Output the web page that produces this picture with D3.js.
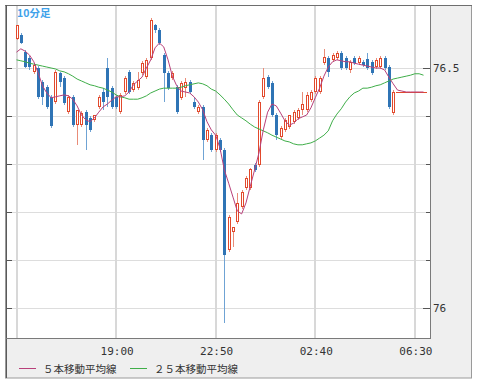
<!DOCTYPE html>
<html><head><meta charset="utf-8">
<script src="https://cdn.jsdelivr.net/npm/d3@7"></script>
<style>html,body{margin:0;padding:0;background:#fff;}svg{display:block}</style>
</head><body><svg id="c" width="478" height="385"></svg>
<script>
const opens = [76.560,76.569,76.533,76.521,76.492,76.500,76.471,76.460,76.440,76.429,
76.490,76.479,76.408,76.440,76.381,76.381,76.408,76.396,76.392,76.419,
76.450,76.500,76.458,76.440,76.408,76.450,76.492,76.454,76.458,76.490,
76.481,76.521,76.590,76.579,76.527,76.490,76.479,76.460,76.438,76.458,
76.471,76.429,76.408,76.419,76.350,76.360,76.329,76.350,76.329,76.121,
76.158,76.179,76.210,76.250,76.250,76.298,76.298,76.440,76.481,76.469,
76.402,76.356,76.371,76.377,76.388,76.396,76.413,76.413,76.433,76.450,
76.450,76.510,76.521,76.517,76.521,76.531,76.521,76.496,76.521,76.510,
76.513,76.519,76.513,76.502,76.502,76.521,76.502,76.406,76.450,76.450,
76.450,76.450,76.450,76.450,76.450];
const highs = [76.590,76.573,76.538,76.525,76.510,76.504,76.475,76.465,76.444,76.496,
76.492,76.483,76.444,76.444,76.413,76.410,76.413,76.400,76.402,76.444,
76.458,76.521,76.463,76.444,76.448,76.483,76.496,76.473,76.492,76.515,
76.521,76.604,76.592,76.583,76.531,76.494,76.494,76.465,76.473,76.479,
76.475,76.440,76.423,76.423,76.375,76.365,76.365,76.354,76.333,76.194,
76.169,76.240,76.246,76.275,76.292,76.302,76.433,76.500,76.485,76.473,
76.406,76.379,76.396,76.402,76.413,76.417,76.450,76.450,76.454,76.483,
76.483,76.540,76.525,76.531,76.535,76.535,76.525,76.517,76.525,76.525,
76.517,76.531,76.517,76.521,76.525,76.525,76.506,76.454,76.450,76.450,
76.450,76.450,76.450,76.450,76.450];
const lows = [76.558,76.550,76.500,76.496,76.488,76.435,76.423,76.415,76.375,76.425,
76.460,76.423,76.404,76.377,76.340,76.377,76.329,76.367,76.388,76.415,
76.413,76.419,76.415,76.415,76.404,76.446,76.446,76.450,76.454,76.485,
76.477,76.517,76.573,76.548,76.429,76.454,76.475,76.404,76.433,76.440,
76.446,76.415,76.404,76.308,76.346,76.325,76.325,76.325,75.969,76.117,
76.127,76.175,76.206,76.246,76.246,76.283,76.294,76.435,76.456,76.398,
76.350,76.352,76.367,76.373,76.383,76.392,76.402,76.408,76.429,76.446,
76.446,76.506,76.481,76.513,76.517,76.496,76.496,76.490,76.506,76.506,
76.502,76.496,76.485,76.498,76.498,76.496,76.415,76.402,76.450,76.450,
76.450,76.450,76.450,76.450,76.450];
const closes = [76.590,76.552,76.502,76.502,76.506,76.440,76.440,76.419,76.379,76.492,
76.471,76.427,76.440,76.381,76.413,76.406,76.381,76.371,76.402,76.440,
76.429,76.440,76.419,76.419,76.444,76.479,76.450,76.469,76.475,76.510,
76.517,76.600,76.579,76.552,76.490,76.458,76.490,76.408,76.469,76.471,
76.450,76.419,76.419,76.350,76.371,76.329,76.360,76.329,76.110,76.190,
76.169,76.219,76.242,76.271,76.290,76.288,76.429,76.479,76.460,76.402,
76.360,76.375,76.392,76.402,76.408,76.413,76.425,76.444,76.450,76.479,
76.479,76.523,76.492,76.527,76.531,76.500,76.500,76.513,76.510,76.521,
76.506,76.500,76.490,76.517,76.521,76.500,76.419,76.450,76.450,76.450,
76.450,76.450,76.450,76.450,76.450];
const ma5 = [76.533,76.540,76.535,76.527,76.513,76.490,76.463,76.448,76.438,76.440,
76.442,76.444,76.442,76.435,76.421,76.402,76.392,76.388,76.396,76.408,
76.419,76.425,76.433,76.440,76.440,76.442,76.450,76.465,76.473,76.481,
76.500,76.517,76.542,76.552,76.544,76.517,76.483,76.463,76.452,76.450,
76.448,76.440,76.429,76.413,76.388,76.371,76.360,76.333,76.288,76.260,
76.231,76.202,76.196,76.219,76.254,76.288,76.323,76.371,76.408,76.425,
76.421,76.406,76.390,76.381,76.385,76.394,76.398,76.402,76.417,76.438,
76.458,76.483,76.502,76.513,76.517,76.515,76.513,76.513,76.510,76.508,
76.506,76.504,76.502,76.500,76.500,76.496,76.481,76.467,76.454,76.452,
76.450,76.450,76.450,76.450,76.450];
const ma25 = [76.517,76.515,76.513,76.510,76.508,76.506,76.504,76.502,76.500,76.498,
76.494,76.492,76.488,76.483,76.477,76.473,76.469,76.465,76.463,76.460,
76.458,76.454,76.450,76.444,76.440,76.438,76.435,76.435,76.435,76.438,
76.442,76.448,76.452,76.456,76.458,76.458,76.458,76.458,76.460,76.463,
76.465,76.467,76.469,76.467,76.463,76.456,76.452,76.444,76.435,76.425,
76.413,76.402,76.396,76.390,76.383,76.377,76.373,76.369,76.365,76.360,
76.356,76.352,76.348,76.346,76.342,76.340,76.340,76.342,76.344,76.348,
76.354,76.360,76.369,76.390,76.404,76.415,76.429,76.440,76.448,76.452,
76.458,76.458,76.460,76.463,76.465,76.469,76.473,76.477,76.479,76.481,
76.483,76.485,76.488,76.488,76.485];
const tickIdx = [23, 46, 69, 92];
const tickLabels = ["19:00", "22:50", "02:40", "06:30"];
const gridIdx = [0, 23, 46, 69, 92];
const gridVals = [76.0, 76.1, 76.2, 76.3, 76.4, 76.5];
const yLabelVals = [76.0, 76.5];
const yLabels = ["76", "76.5"];
const periodLabel = "10分足";
const legendNames = ["５本移動平均線", "２５本移動平均線"];

const svg = d3.select('#c');
const x = d3.scaleLinear().domain([0, 94]).range([16.5, 423.5]);
const y = d3.scaleLinear().domain([76, 76.5]).range([308, 68]);
const RED = '#e2492c', REDW = '#e98c78', BLUE = '#2f74b5', BLUEW = '#6fa3d4';
const C5 = '#b8407a', C25 = '#3fae49';

// outer frame
svg.append('rect').attr('x', 5.5).attr('y', 5.5).attr('width', 466).attr('height', 372.5)
  .attr('fill', '#efefef').attr('stroke', '#9a9a9a');
// plot area
svg.append('rect').attr('x', 6).attr('y', 6).attr('width', 425).attr('height', 333).attr('fill', '#fff');

// grid
const g = svg.append('g');
g.selectAll('.hg').data(gridVals).enter().append('line')
  .attr('x1', 6).attr('x2', 431).attr('y1', d => Math.round(y(d)) + 0.5).attr('y2', d => Math.round(y(d)) + 0.5)
  .attr('stroke', '#dddddd').attr('stroke-width', 1);
g.selectAll('.vg').data(gridIdx).enter().append('line')
  .attr('x1', d => Math.round(x(d))).attr('x2', d => Math.round(x(d))).attr('y1', 6).attr('y2', 339)
  .attr('stroke', '#d8d8d8').attr('stroke-width', 2);

// left ticks
g.selectAll('.lt').data(gridVals).enter().append('line')
  .attr('x1', 6).attr('x2', 12).attr('y1', d => Math.round(y(d)) + 0.5).attr('y2', d => Math.round(y(d)) + 0.5)
  .attr('stroke', '#555');
// right ticks
g.selectAll('.rt').data(gridVals).enter().append('line')
  .attr('x1', d => yLabelVals.includes(d) ? 423 : 426).attr('x2', 431)
  .attr('y1', d => Math.round(y(d)) + 0.5).attr('y2', d => Math.round(y(d)) + 0.5)
  .attr('stroke', '#555');

// clip
svg.append('clipPath').attr('id', 'clip').append('rect').attr('x', 7).attr('y', 6).attr('width', 423).attr('height', 332);
const cg = svg.append('g').attr('clip-path', 'url(#clip)');

const data = opens.map((o, i) => ({ i, o, h: highs[i], l: lows[i], c: closes[i] }));
const cand = cg.selectAll('.cd').data(data).enter().append('g');
cand.each(function (d) {
  const s = d3.select(this);
  const cx = Math.round(x(d.i));
  const up = d.c >= d.o;
  if (d.o === d.c && d.h === d.l) {
    s.append('line').attr('x1', cx - 2).attr('x2', cx + 3)
      .attr('y1', Math.round(y(d.c)) + 0.5).attr('y2', Math.round(y(d.c)) + 0.5).attr('stroke', RED);
    return;
  }
  s.append('line').attr('x1', cx + 0.5).attr('x2', cx + 0.5)
    .attr('y1', Math.round(y(d.h))).attr('y2', Math.round(y(d.l)))
    .attr('stroke', up ? REDW : BLUEW).attr('stroke-width', 1);
  const top = Math.round(y(Math.max(d.o, d.c))), bot = Math.round(y(Math.min(d.o, d.c)));
  if (up) {
    s.append('rect').attr('x', cx - 0.5).attr('y', top + 0.5).attr('width', 2).attr('height', Math.max(1, bot - top - 1))
      .attr('fill', '#fff').attr('stroke', RED).attr('stroke-width', 1);
  } else {
    s.append('rect').attr('x', cx - 1).attr('y', top).attr('width', 3).attr('height', Math.max(1, bot - top))
      .attr('fill', BLUE);
  }
});

const line = d3.line().x((d, i) => x(i)).y(d => y(d));
cg.append('path').datum(ma25).attr('d', line).attr('fill', 'none').attr('stroke', C25).attr('stroke-width', 1);
cg.append('path').datum(ma5).attr('d', line).attr('fill', 'none').attr('stroke', C5).attr('stroke-width', 1);

// borders of plot
svg.append('line').attr('x1', 5).attr('x2', 472).attr('y1', 5.5).attr('y2', 5.5).attr('stroke', '#6e6e6e');
svg.append('line').attr('x1', 6.5).attr('x2', 6.5).attr('y1', 5).attr('y2', 378).attr('stroke', '#5a5a5a');
svg.append('line').attr('x1', 430.5).attr('x2', 430.5).attr('y1', 5).attr('y2', 339).attr('stroke', '#7a7a7a');
svg.append('line').attr('x1', 6).attr('x2', 431).attr('y1', 338.5).attr('y2', 338.5).attr('stroke', '#7a7a7a');

// y labels
svg.selectAll('.yl').data(yLabelVals).enter().append('text')
  .attr('x', 433).attr('y', d => y(d) + 4).text((d, i) => yLabels[i])
  .attr('font-family', 'DejaVu Sans Mono').attr('font-size', '11px').attr('fill', '#333');

// x labels
svg.selectAll('.xl').data(tickIdx).enter().append('text')
  .attr('x', d => x(d) + 1).attr('y', 355).attr('text-anchor', 'middle').text((d, i) => tickLabels[i])
  .attr('font-family', 'DejaVu Sans Mono').attr('font-size', '11px').attr('fill', '#333');

// period label
svg.append('text').attr('x', 17).attr('y', 17).text(periodLabel)
  .attr('font-family', 'Noto Sans CJK JP').attr('font-size', '10.5px').attr('font-weight', 'bold').attr('fill', '#3fa2ea');

// legend
const legX = [19, 130];
const legC = [C5, C25];
legendNames.forEach((n, k) => {
  svg.append('line').attr('x1', legX[k]).attr('x2', legX[k] + 17).attr('y1', 368.5).attr('y2', 368.5).attr('stroke', legC[k]);
  svg.append('text').attr('x', legX[k] + 24).attr('y', 372.5).text(n)
    .attr('font-family', 'Noto Sans CJK JP').attr('font-size', '10.5px').attr('fill', '#333');
});
</script></body></html>
